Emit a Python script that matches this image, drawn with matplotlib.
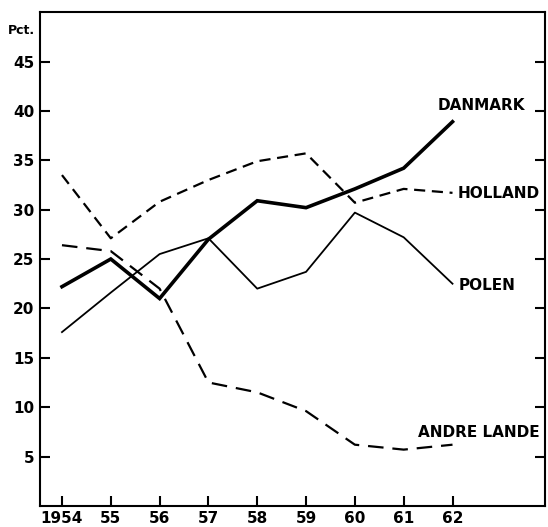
import numpy as np
import matplotlib.pyplot as plt

years = [1954, 1955, 1956, 1957, 1958, 1959, 1960, 1961, 1962]
year_labels = ['1954', '55', '56', '57', '58', '59', '60', '61', '62']

danmark = [22.2, 25.0, 21.0, 27.0, 30.9, 30.2, 32.1, 34.2, 38.9]
holland = [33.5, 27.1, 30.8, 33.0, 34.9, 35.7, 30.7, 32.1, 31.7]
polen = [17.6, 21.6, 25.5, 27.1, 22.0, 23.7, 29.7, 27.2, 22.5]
andre_lande = [26.4, 25.8, 22.0, 12.5, 11.5, 9.6, 6.2, 5.7, 6.2]

y_ticks = [5, 10, 15, 20, 25, 30, 35, 40, 45]

fig = plt.figure(figsize=(5.48, 5.27), dpi=100, facecolor='white')
ax = fig.add_axes([0.073, 0.04, 0.922, 0.937])

ax.plot(years, danmark, color='black', lw=2.6, solid_joinstyle='miter')
ax.plot(years, holland, color='black', lw=1.6, linestyle=(0, (5, 3)))
ax.plot(years, polen, color='black', lw=1.3)
ax.plot(years, andre_lande, color='black', lw=1.6, linestyle=(0, (7, 4)))

fnt = dict(fontsize=11, fontweight='bold', color='black')
ax.text(1961.7, 40.5, 'DANMARK', va='center', ha='left', **fnt)
ax.text(1962.1, 31.6, 'HOLLAND', va='center', ha='left', **fnt)
ax.text(1962.12, 22.3, 'POLEN', va='center', ha='left', **fnt)
ax.text(1961.3, 7.4, 'ANDRE LANDE', va='center', ha='left', **fnt)

ax.set_xlim(1953.55, 1963.9)
ax.set_ylim(0, 50)
ax.set_xticks(years)
ax.set_xticklabels(year_labels)
ax.set_yticks(y_ticks)
ax.set_yticklabels([str(v) for v in y_ticks])

ax.tick_params(axis='both', direction='in', length=7, width=1.5, labelsize=11, pad=4)
ax.tick_params(axis='y', right=True, left=True)
for lab in ax.get_xticklabels() + ax.get_yticklabels():
    lab.set_fontweight('bold')

for sp in ax.spines.values():
    sp.set_linewidth(1.5)

fig.text(0.015, 0.943, 'Pct.', fontsize=9, fontweight='bold', ha='left', va='center')

fig.savefig('out.png', dpi=100, facecolor='white')
